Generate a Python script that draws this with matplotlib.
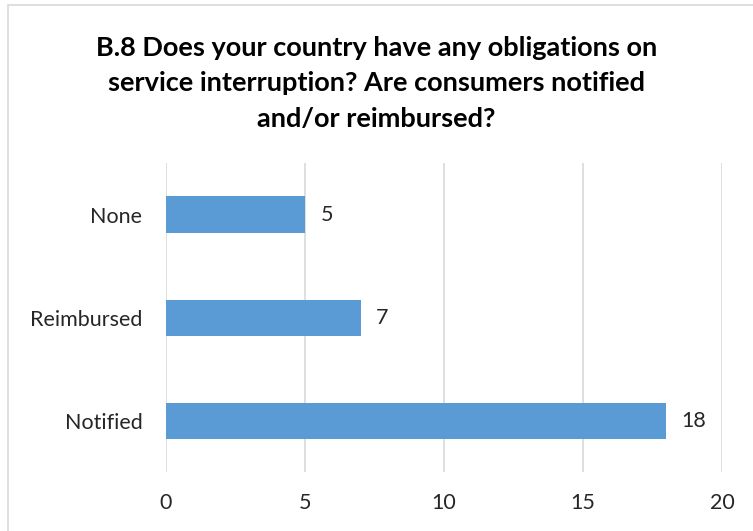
import matplotlib
matplotlib.use("Agg")
import matplotlib.pyplot as plt
from matplotlib.patches import Rectangle

# answers to question B.8, counts of countries
categories = ["Notified", "Reimbursed", "None"]
counts = [18, 7, 5]
x_ticks = [0, 5, 10, 15, 20]

title = ("B.8 Does your country have any obligations on\n"
         "service interruption? Are consumers notified\n"
         "and/or reimbursed?")

plt.rcParams['font.family'] = ['Lato', 'DejaVu Sans']

fig = plt.figure(figsize=(7.53, 5.31), dpi=100)
ax = fig.add_axes([0.2205, 0.111, 0.7383, 0.582])

pos = list(range(len(categories)))
ax.barh(pos, counts, height=0.35, color="#5B9BD5", zorder=3)
for p, v in zip(pos, counts):
    ax.text(v + 0.55, p, str(v), va="center", ha="left", fontsize=15.5, color="#262626")

ax.set_xlim(0, 20)
ax.set_ylim(-0.5, 2.5)
ax.set_xticks(x_ticks)
ax.set_yticks(pos)
ax.set_yticklabels(categories)
ax.tick_params(axis="both", length=0, labelsize=15.5, colors="#262626")
ax.tick_params(axis="x", pad=15)
ax.tick_params(axis="y", pad=17)
ax.grid(axis="x", color="#D9D9D9", linewidth=1.2, zorder=0)
for s in ax.spines.values():
    s.set_visible(False)

fig.text(0.5, 0.843, title, ha="center", va="center", fontsize=19.5,
         fontweight="bold", color="#000000", linespacing=1.58)

# chart frame
fig.patches.append(Rectangle((0.011, -0.02), 1.0, 1.01, transform=fig.transFigure,
                             fill=False, edgecolor="#D9D9D9", linewidth=1.2))

fig.savefig("out.png", dpi=100)
